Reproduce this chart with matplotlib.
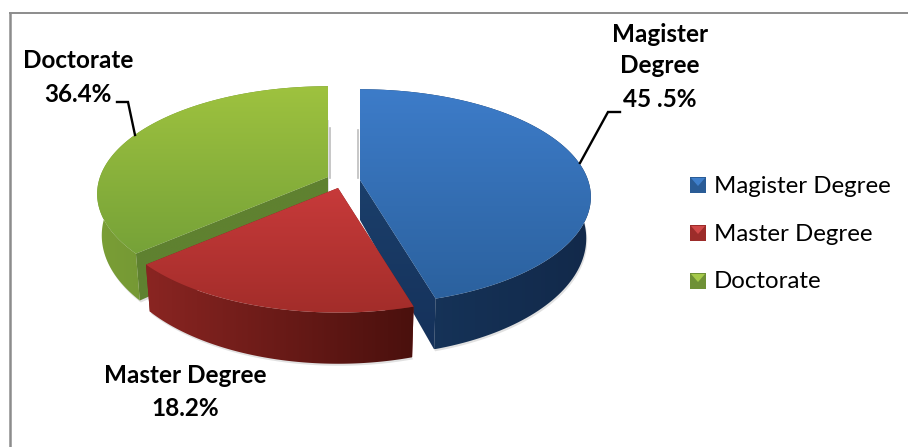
#!/usr/bin/env python3
"""
Exploded 3D style pie chart of academic degrees
"""

import numpy as np
import matplotlib
matplotlib.use('Agg')
import matplotlib.pyplot as plt
from matplotlib.colors import LinearSegmentedColormap
from matplotlib.patches import Polygon, Rectangle

plt.rcParams['font.family'] = ['Lato', 'DejaVu Sans']

# data
categories = ['Magister Degree', 'Master Degree', 'Doctorate']
shares = [45.5, 18.2, 36.4]
label_lines = [['Magister', 'Degree', '45 .5%'], ['Master Degree', '18.2%'], ['Doctorate', '36.4%']]

# pie geometry in pixels
RX, RY, PERSP = 228, 105, 0.157
DEPTH, BOTTOM_Y, BOTTOM_X = 40, 1.09, 0.98
apexes = {'Magister Degree': (360, 180), 'Master Degree': (338, 188), 'Doctorate': (328, 177)}

# top start/end, outer wall start/end, cut wall start/end
colors = {
    'Magister Degree': ('#3D7CC9', '#2B619E', '#17375E', '#12294A', '#1B3F6B', '#15315A'),
    'Master Degree': ('#C73A3A', '#A32D2A', '#8A2522', '#4A100D', '#7A2020', '#7A2020'),
    'Doctorate': ('#9EC23F', '#76A238', '#7A9E36', '#62842C', '#5F8130', '#5F8130'),
}


def project(angles, apex, bottom=False):
    """Map pie angles (degrees clockwise from top) onto the tilted disc"""
    a = np.radians(angles)
    w = 1 + PERSP * np.cos(a)
    x = RX * np.sin(a) / w
    y = -RY * np.cos(a) / w
    if bottom:
        return np.column_stack([apex[0] + BOTTOM_X * x, apex[1] + DEPTH + BOTTOM_Y * y])
    return np.column_stack([apex[0] + x, apex[1] + y])


def fill_gradient(ax, pts, c1, c2, horizontal=False, zorder=2):
    """Fill a polygon with a two colour linear gradient"""
    cmap = LinearSegmentedColormap.from_list('g', [c1, c2])
    ramp = np.linspace(0, 1, 256)
    ramp = ramp.reshape(1, -1) if horizontal else ramp.reshape(-1, 1)
    x0, y0 = pts.min(axis=0)
    x1, y1 = pts.max(axis=0)
    im = ax.imshow(ramp, cmap=cmap, extent=(x0, x1, y1, y0), aspect='auto',
                   origin='upper', zorder=zorder, interpolation='bilinear')
    im.set_clip_path(Polygon(pts, closed=True, transform=ax.transData))


fig = plt.figure(figsize=(9.09, 4.47), dpi=100)
ax = fig.add_axes([0, 0, 1, 1])

# chart frame, only the top and left edges show
ax.plot([9.7, 9.7], [447, 12.5], color='#8C8C8C', lw=1.8, zorder=1, solid_capstyle='butt')
ax.plot([8.5, 908], [13, 13], color='#8C8C8C', lw=1.4, zorder=1, solid_capstyle='butt')

# faint shadow lines behind the inner edges at the back
ax.plot([329.5, 329.5], [128, 178], color='#BDBDBD', lw=1.2, zorder=2)
ax.plot([357.5, 357.5], [130, 178], color='#BDBDBD', lw=1.2, zorder=2)

# slice angles from the values
total = sum(shares)
edges = np.concatenate([[0], np.cumsum(shares) / total * 360])
spans = {c: (edges[i], edges[i + 1]) for i, c in enumerate(categories)}

zorder = 3
for cat in ['Doctorate', 'Magister Degree', 'Master Degree']:
    start, end = spans[cat]
    apex = apexes[cat]
    c = colors[cat]
    arc = np.linspace(start, end, 120)
    top = project(arc, apex)
    low = project(arc, apex, bottom=True)
    apex_low = np.array([[apex[0], apex[1] + DEPTH]])
    apex_top = np.array([apex])

    # soft shadow under the slice
    shadow = np.vstack([apex_low, low]) + np.array([1, 2])
    ax.add_patch(Polygon(shadow, closed=True, fc='#888888', ec='none', alpha=0.25, zorder=zorder))

    for i in (0, -1):
        quad = np.vstack([apex_top, top[[i]], low[[i]], apex_low])
        fill_gradient(ax, quad, c[4], c[5], zorder=zorder + 0.1)
    fill_gradient(ax, np.vstack([top, low[::-1]]), c[2], c[3], horizontal=True, zorder=zorder + 0.2)
    fill_gradient(ax, np.vstack([apex_top, top]), c[0], c[1], zorder=zorder + 0.3)
    zorder += 1

# leader lines
ax.plot([117, 128, 135], [102, 102, 135], color='black', lw=1.7, zorder=8, solid_joinstyle='miter')
ax.plot([580, 608, 620], [163, 112, 112], color='black', lw=1.7, zorder=8, solid_joinstyle='miter')

# data labels
label_pos = [(660, [42, 73, 107]), (185, [383, 416]), (78, [68, 102])]
for lines, (x, baselines) in zip(label_lines, label_pos):
    for line, y in zip(lines, baselines):
        ax.text(x, y, line, fontsize=17.5, fontweight='bold', ha='center', va='baseline', color='black', zorder=9)

# legend with faceted markers
legend_y = [177, 225, 273]
marker_colors = [('#3F7FCB', '#2A5C96'), ('#D04848', '#9C2C2A'), ('#A5C94A', '#6F9136')]
legend_base = [193, 241, 288]
for cat, y, base, (light, dark) in zip(categories, legend_y, legend_base, marker_colors):
    ax.add_patch(Rectangle((690, y), 16, 16, fc=dark, ec='none', zorder=5))
    ax.add_patch(Polygon([(691, y + 1), (705, y + 1), (698, y + 9)], closed=True, fc=light, ec='none', zorder=6))
    ax.text(714, base, cat, fontsize=17.3, ha='left', va='baseline', color='black', zorder=9)

ax.set_xlim(0, 909)
ax.set_ylim(447, 0)
ax.axis('off')

plt.savefig('out.png', dpi=100)
